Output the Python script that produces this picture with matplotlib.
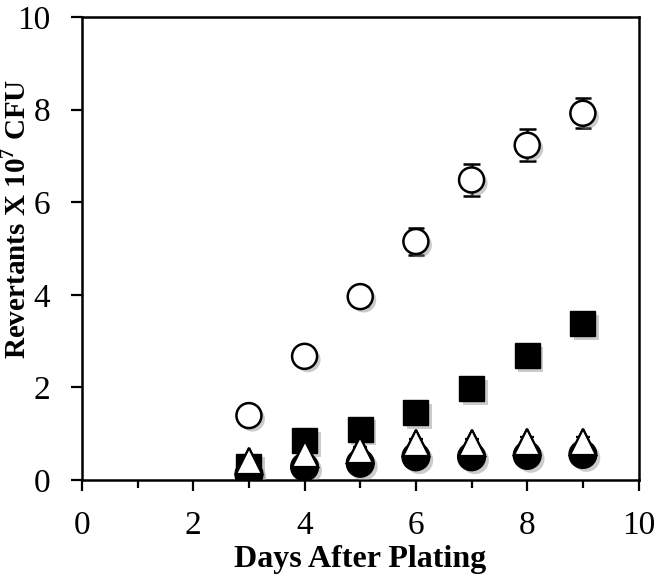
import numpy as np
import matplotlib
matplotlib.use('Agg')
import matplotlib.pyplot as plt
import matplotlib.patheffects as pe

plt.rcParams['font.family'] = ['Liberation Serif', 'DejaVu Serif']
plt.rcParams['mathtext.fontset'] = 'custom'
plt.rcParams['mathtext.rm'] = 'Liberation Serif'
plt.rcParams['mathtext.bf'] = 'Liberation Serif:bold'

# ── data ──────────────────────────────────────────────────────────────────────
days = [3, 4, 5, 6, 7, 8, 9]

open_circle = [1.39, 2.67, 3.96, 5.15, 6.48, 7.23, 7.92]
open_circle_err = [0.10, 0.18, 0.20, 0.30, 0.35, 0.35, 0.32]

filled_square = [0.30, 0.85, 1.09, 1.45, 1.97, 2.68, 3.37]

filled_circle = [0.12, 0.28, 0.36, 0.50, 0.50, 0.53, 0.55]

open_triangle = [0.40, 0.57, 0.65, 0.80, 0.80, 0.83, 0.83]
open_triangle_err = [0.05, 0.05, 0.06, 0.08, 0.08, 0.10, 0.10]

shadow = [pe.SimplePatchShadow(offset=(2.5, -2.5), shadow_rgbFace='0.55', alpha=0.45),
          pe.Normal()]

fig = plt.figure(figsize=(6.61, 5.86), dpi=100)
ax = fig.add_axes([0.124, 0.181, 0.842, 0.79])

ax.plot(days, filled_square, linestyle='none', marker='s', ms=18,
        mfc='black', mec='black', path_effects=shadow, zorder=3)
ax.plot(days, filled_circle, linestyle='none', marker='o', ms=20,
        mfc='black', mec='black', path_effects=shadow, zorder=4)
ax.errorbar(days, open_triangle, yerr=open_triangle_err, fmt='^', ms=19,
            mfc='white', mec='black', mew=1.6, ecolor='black', elinewidth=1.4,
            capsize=5, capthick=1.4, zorder=5)
ax.plot(days, open_triangle, linestyle='none', marker='^', ms=19,
        mfc='white', mec='black', mew=1.6, zorder=5)
ax.errorbar(days, open_circle, yerr=open_circle_err, fmt='o', ms=18,
            mfc='white', mec='black', mew=1.8, ecolor='black', elinewidth=1.8,
            capsize=6, capthick=2.2, zorder=6)
for ln in ax.lines[-3:]:
    ln.set_path_effects(shadow)

ax.set_xlim(0, 10)
ax.set_ylim(0, 10)
ax.set_xticks(range(0, 11, 2))
ax.set_xticks(range(1, 10, 2), minor=True)
ax.set_yticks(range(0, 11, 2))
ax.tick_params(axis='both', which='major', direction='out', length=8, width=1.6,
               labelsize=24, pad=14)
ax.tick_params(axis='x', which='minor', direction='out', length=6, width=1.6)
ax.tick_params(axis='y', which='major', pad=15)

for sp in ax.spines.values():
    sp.set_linewidth(1.8)

ax.set_xlabel('Days After Plating', fontsize=23, fontweight='bold')
ax.set_ylabel('Revertants X 10$^{\\mathbf{7}}$ CFU', fontsize=21, fontweight='bold',
              va='center', ha='center')
ax.xaxis.set_label_coords(0.5, -0.14)
ax.yaxis.set_label_coords(-0.117, 0.565)

fig.savefig('out.png', dpi=100)
